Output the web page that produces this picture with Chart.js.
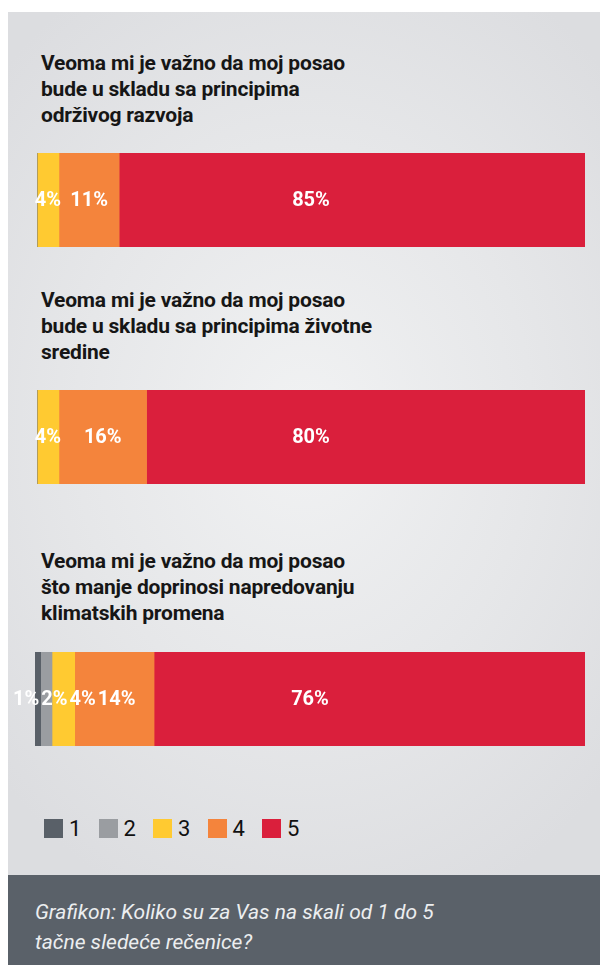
<!DOCTYPE html>
<html>
<head>
<meta charset="utf-8">
<script src="https://cdn.jsdelivr.net/npm/chart.js@4.4.0/dist/chart.umd.min.js"></script>
<style>
  html, body { margin: 0; padding: 0; background: #fff; }
  body { width: 600px; height: 965px; position: relative; overflow: hidden; font-family: Roboto, "Noto Sans", sans-serif; }
  #panel {
    position: absolute; left: 8px; top: 12px; width: 592px; height: 863px;
    background: radial-gradient(ellipse 70% 60% at 50% 48%, #f1f2f3 0%, #e6e7e9 55%, #dcdde0 100%);
  }
  #footer {
    position: absolute; left: 8px; top: 875px; width: 592px; height: 90px; background: #5a6169;
  }
  .title {
    position: absolute; left: 41px; font-weight: 700; font-size: 21px; line-height: 26px; color: #161616;
    letter-spacing: -0.2px;
  }
  .chartBox { position: absolute; left: 0; width: 600px; height: 94px; }
  .chartBox canvas { display: block; }
  #legend { position: absolute; left: 44px; top: 819px; display: flex; }
  .legItem { display: flex; align-items: center; width: 54.5px; height: 19px; }
  .legItem span.box { width: 19px; height: 19px; margin-right: 6px; }
  .legItem span.txt { font-size: 22px; color: #111; line-height: 19px; }
  #caption {
    position: absolute; left: 35px; top: 897px; font-style: italic; font-size: 21px; line-height: 30px; color: #eceef0;
  }
</style>
</head>
<body>
<div id="panel"></div>
<div id="footer"></div>
<div id="caption">Grafikon: Koliko su za Vas na skali od 1 do 5<br>tačne sledeće rečenice?</div>
<div id="legend"></div>
<script>
// Ocene na skali 1-5
const grades = ["1", "2", "3", "4", "5"];
const gradeColors = ["#596068", "#9a9da1", "#ffca31", "#f4843c", "#da1f3c"];

// Tvrdnje (naslovi iznad traka)
const statement1 = ["Veoma mi je važno da moj posao", "bude u skladu sa principima", "održivog razvoja"];
const statement2 = ["Veoma mi je važno da moj posao", "bude u skladu sa principima životne", "sredine"];
const statement3 = ["Veoma mi je važno da moj posao", "što manje doprinosi napredovanju", "klimatskih promena"];

// Procenti odgovora po oceni 1..5
const answers1 = [0, 0, 4, 11, 85];
const answers2 = [0, 0, 4, 16, 80];
const answers3 = [1, 2, 4, 14, 76];

const blocks = [
  { lines: statement1, values: answers1, titleTop: 50, barTop: 153, barLeft: 37 },
  { lines: statement2, values: answers2, titleTop: 287, barTop: 390, barLeft: 37 },
  { lines: statement3, values: answers3, titleTop: 548, barTop: 652, barLeft: 35 },
];

// Labels inside the bar segments, pushed apart when they collide
const segmentLabels = {
  id: "segmentLabels",
  afterDatasetsDraw(chart) {
    const ctx = chart.ctx;
    const area = chart.chartArea;
    const total = chart.options.scales.x.max;
    const gap = 2;
    ctx.save();
    ctx.font = "bold 20px Roboto";
    ctx.fillStyle = "#ffffff";
    ctx.textBaseline = "middle";
    ctx.textAlign = "left";
    let items = [];
    chart.data.datasets.forEach((ds, i) => {
      const v = ds.data[0];
      if (!v) return;
      const el = chart.getDatasetMeta(i).data[0];
      const text = v + "%";
      const w = ctx.measureText(text).width;
      // the dominant answer is centred on the whole bar
      const cx = v / total > 0.5 ? (area.left + area.right) / 2 : (el.base + el.x) / 2;
      items.push({ text, w, left: cx - w / 2, y: el.y });
    });
    // push left first
    for (let i = items.length - 2; i >= 0; i--) {
      const limit = items[i + 1].left - gap;
      if (items[i].left + items[i].w > limit) items[i].left = limit - items[i].w;
    }
    // then keep the chain from running off the left edge
    const minLeft = area.left - 22;
    if (items.length && items[0].left < minLeft) items[0].left = minLeft;
    for (let i = 1; i < items.length; i++) {
      const start = items[i - 1].left + items[i - 1].w + gap;
      if (items[i].left < start) items[i].left = start;
    }
    items.forEach((it) => ctx.fillText(it.text, it.left, it.y + 1));
    ctx.restore();
  },
};

blocks.forEach((b) => {
  const t = document.createElement("div");
  t.className = "title";
  t.style.top = b.titleTop + "px";
  t.innerHTML = b.lines.join("<br>");
  document.body.appendChild(t);

  const box = document.createElement("div");
  box.className = "chartBox";
  box.style.top = b.barTop + "px";
  const canvas = document.createElement("canvas");
  canvas.width = 600;
  canvas.height = 94;
  box.appendChild(canvas);
  document.body.appendChild(box);

  const total = b.values.reduce((a, c) => a + c, 0);

  new Chart(canvas, {
    type: "bar",
    data: {
      labels: [""],
      datasets: grades.map((g, i) => ({
        label: g,
        data: [b.values[i]],
        backgroundColor: gradeColors[i],
        borderWidth: 0,
        barPercentage: 1,
        categoryPercentage: 1,
      })),
    },
    options: {
      indexAxis: "y",
      responsive: false,
      maintainAspectRatio: false,
      devicePixelRatio: 1,
      animation: false,
      layout: { padding: { left: b.barLeft, right: 15, top: 0, bottom: 0 } },
      scales: {
        x: { stacked: true, min: 0, max: total, display: false },
        y: { stacked: true, display: false },
      },
      plugins: { legend: { display: false }, tooltip: { enabled: false } },
    },
    plugins: [segmentLabels],
  });
});

// Legend built from the grades
const legend = document.getElementById("legend");
grades.forEach((g, i) => {
  const item = document.createElement("div");
  item.className = "legItem";
  item.innerHTML = `<span class="box" style="background:${gradeColors[i]}"></span><span class="txt">${g}</span>`;
  legend.appendChild(item);
});
</script>
</body>
</html>
